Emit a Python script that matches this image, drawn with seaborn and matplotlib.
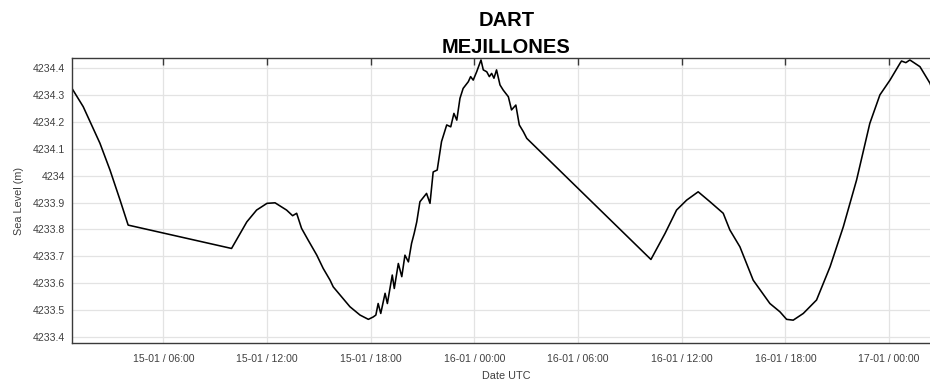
"""
Serie de nivel del mar, boya DART Mejillones (15-01 a 17-01, UTC).
"""

import numpy as np
import pandas as pd
import matplotlib
matplotlib.use('Agg')
import matplotlib.pyplot as plt
import matplotlib.dates as mdates
import seaborn as sns

# datos (fecha UTC, nivel en m)
fechas = [
    '2024-01-15 00:43', '2024-01-15 01:22', '2024-01-15 02:20', '2024-01-15 02:55',
    '2024-01-15 03:30', '2024-01-15 03:58',
    '2024-01-15 09:57', '2024-01-15 10:50', '2024-01-15 11:24', '2024-01-15 12:00',
    '2024-01-15 12:28', '2024-01-15 13:08', '2024-01-15 13:29', '2024-01-15 13:43',
    '2024-01-15 14:00', '2024-01-15 14:23', '2024-01-15 14:53', '2024-01-15 15:15',
    '2024-01-15 15:39', '2024-01-15 15:50', '2024-01-15 16:48', '2024-01-15 17:23',
    '2024-01-15 17:52', '2024-01-15 18:09', '2024-01-15 18:18', '2024-01-15 18:26',
    '2024-01-15 18:35', '2024-01-15 18:50', '2024-01-15 18:58', '2024-01-15 19:15',
    '2024-01-15 19:22', '2024-01-15 19:36', '2024-01-15 19:48', '2024-01-15 19:59',
    '2024-01-15 20:11', '2024-01-15 20:22', '2024-01-15 20:31', '2024-01-15 20:40',
    '2024-01-15 20:51', '2024-01-15 21:14', '2024-01-15 21:26', '2024-01-15 21:37',
    '2024-01-15 21:51', '2024-01-15 22:06', '2024-01-15 22:24', '2024-01-15 22:38',
    '2024-01-15 22:49', '2024-01-15 22:59', '2024-01-15 23:10', '2024-01-15 23:21',
    '2024-01-15 23:39', '2024-01-15 23:47', '2024-01-15 23:56', '2024-01-16 00:08',
    '2024-01-16 00:23', '2024-01-16 00:31', '2024-01-16 00:43', '2024-01-16 00:52',
    '2024-01-16 01:00', '2024-01-16 01:08', '2024-01-16 01:17', '2024-01-16 01:29',
    '2024-01-16 01:40', '2024-01-16 01:58', '2024-01-16 02:09', '2024-01-16 02:24',
    '2024-01-16 02:36', '2024-01-16 02:50', '2024-01-16 03:02',
    '2024-01-16 10:13', '2024-01-16 11:02', '2024-01-16 11:42', '2024-01-16 12:17',
    '2024-01-16 12:57', '2024-01-16 13:38', '2024-01-16 14:24', '2024-01-16 14:47',
    '2024-01-16 15:22', '2024-01-16 16:08', '2024-01-16 17:06', '2024-01-16 17:41',
    '2024-01-16 18:04', '2024-01-16 18:27', '2024-01-16 19:02', '2024-01-16 19:48',
    '2024-01-16 20:35', '2024-01-16 21:21', '2024-01-16 22:07', '2024-01-16 22:53',
    '2024-01-16 23:28', '2024-01-17 00:03', '2024-01-17 00:38', '2024-01-17 00:43',
    '2024-01-17 00:58', '2024-01-17 01:12', '2024-01-17 01:47', '2024-01-17 02:22',
    '2024-01-17 02:39', '2024-01-17 03:00',
]
nivel = [
    4234.325, 4234.257, 4234.121, 4234.021,
    4233.909, 4233.816,
    4233.729, 4233.828, 4233.872, 4233.897,
    4233.899, 4233.872, 4233.851, 4233.860,
    4233.804, 4233.760, 4233.704, 4233.655,
    4233.611, 4233.586, 4233.512, 4233.481,
    4233.465, 4233.474, 4233.481, 4233.524,
    4233.487, 4233.562, 4233.524, 4233.630,
    4233.580, 4233.673, 4233.624, 4233.704,
    4233.679, 4233.748, 4233.785, 4233.828,
    4233.903, 4233.934, 4233.897, 4234.014,
    4234.021, 4234.127, 4234.189, 4234.182,
    4234.232, 4234.207, 4234.288, 4234.325,
    4234.350, 4234.369, 4234.356, 4234.387,
    4234.431, 4234.394, 4234.387, 4234.369,
    4234.381, 4234.363, 4234.394, 4234.338,
    4234.319, 4234.294, 4234.245, 4234.263,
    4234.189, 4234.164, 4234.139,
    4233.688, 4233.785, 4233.872, 4233.909,
    4233.940, 4233.903, 4233.860, 4233.798,
    4233.735, 4233.611, 4233.524, 4233.493,
    4233.465, 4233.462, 4233.487, 4233.537,
    4233.661, 4233.810, 4233.984, 4234.195,
    4234.301, 4234.356, 4234.419, 4234.427,
    4234.421, 4234.431, 4234.406, 4234.344,
    4234.290, 4234.230,
]
y_ticks = [4233.4, 4233.5, 4233.6, 4233.7, 4233.8, 4233.9,
           4234.0, 4234.1, 4234.2, 4234.3, 4234.4]
x_inicio = '2024-01-15 00:43'
x_fin = '2024-01-17 03:00'

df = pd.DataFrame({'fecha': pd.to_datetime(fechas), 'nivel': nivel})

sns.set_theme(style='whitegrid')
plt.rcParams['font.family'] = ['Liberation Sans', 'DejaVu Sans']

gris = '#404040'
fig = plt.figure(figsize=(9.3, 3.81), dpi=100)
ax = fig.add_axes([0.0774, 0.1005, 0.9344, 0.746])

sns.lineplot(data=df, x='fecha', y='nivel', ax=ax, color='black',
             linewidth=1.15, sort=False, estimator=None)

ax.set_xlim(pd.Timestamp(x_inicio), pd.Timestamp(x_fin))
ax.set_ylim(4233.378, 4234.4365)
ax.set_yticks(y_ticks)
ax.yaxis.set_major_formatter(matplotlib.ticker.FuncFormatter(lambda v, p: f'{v:g}'))
ax.xaxis.set_major_locator(mdates.HourLocator(byhour=[0, 6, 12, 18]))
ax.xaxis.set_major_formatter(mdates.DateFormatter('%d-%m / %H:%M'))

ax.grid(True, color='#e3e3e3', linewidth=0.9)
for s in ax.spines.values():
    s.set_color('#3a3a3a')
    s.set_linewidth(1.0)
ax.tick_params(direction='in', length=5, width=1.0, color='#3a3a3a',
               top=True, right=True, labelsize=7.6, labelcolor=gris)
ax.tick_params(axis='x', pad=8)
ax.tick_params(axis='y', pad=5)

ax.set_xlabel('Date UTC', fontsize=7.8, color=gris, labelpad=5)
ax.set_ylabel('Sea Level (m)', fontsize=7.8, color=gris, labelpad=6)
ax.set_title('DART\nMEJILLONES', fontsize=14.5, fontweight='bold',
             color='black', linespacing=1.55, pad=4)

plt.savefig('out.png', dpi=100)
